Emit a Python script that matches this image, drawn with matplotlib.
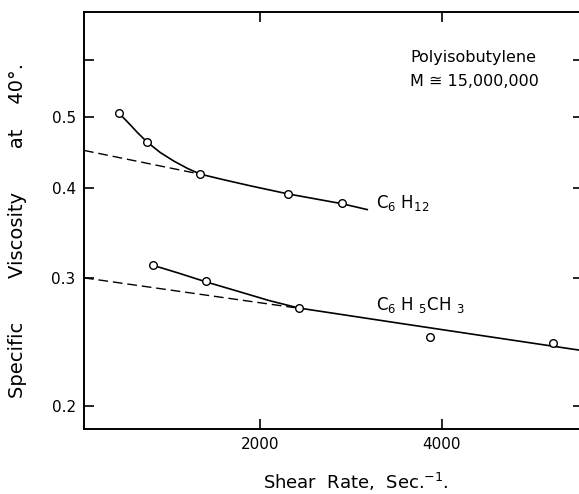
import matplotlib
matplotlib.use('Agg')
import matplotlib.pyplot as plt
from matplotlib.ticker import FixedLocator, NullLocator, FixedFormatter

plt.rcParams['mathtext.default'] = 'regular'

# measured points (shear rate, specific viscosity)
c6h12_x = [448, 756, 1340, 2308, 2903]
c6h12_y = [0.506, 0.462, 0.417, 0.392, 0.3805]
# hand-drawn fit curve
c6h12_fit_x = [448, 550, 650, 756, 900, 1050, 1200, 1340, 1600, 1900, 2308, 2903, 3180]
c6h12_fit_y = [0.506, 0.491, 0.476, 0.462, 0.447, 0.435, 0.425, 0.4174, 0.410, 0.402, 0.392, 0.380, 0.373]
c6h12_dash_x = [60, 1340]
c6h12_dash_y = [0.450, 0.4174]

tol_x = [823, 1407, 2424, 3871, 5222]
tol_y = [0.3127, 0.2976, 0.2729, 0.2491, 0.2447]
tol_fit_x = [823, 1100, 1407, 1750, 2100, 2424, 3500, 4500, 5560]
tol_fit_y = [0.3125, 0.305, 0.2965, 0.288, 0.2795, 0.2730, 0.2605, 0.2495, 0.2384]
tol_dash_x = [60, 2380]
tol_dash_y = [0.3004, 0.2733]

y_ticks = [0.2, 0.3, 0.4, 0.5, 0.6]
y_labels = ['0.2', '0.3', '0.4', '0.5', '']
x_ticks = [2000, 4000]

fig = plt.figure(figsize=(5.79, 4.94), dpi=100)
ax = fig.add_axes([84 / 579, 1 - 429 / 494, 0.8625, (429 - 12) / 494])

ax.set_yscale('log')
ax.set_xlim(60, 5560)
ax.set_ylim(0.186, 0.698)

dash = (0, (7, 3.5))
ax.plot(c6h12_fit_x, c6h12_fit_y, color='black', lw=1.2)
ax.plot(c6h12_dash_x, c6h12_dash_y, color='black', lw=1.0, ls=dash)
ax.plot(c6h12_x, c6h12_y, 'o', ms=5.5, mfc='white', mec='black', mew=1.0)

ax.plot(tol_fit_x, tol_fit_y, color='black', lw=1.2)
ax.plot(tol_dash_x, tol_dash_y, color='black', lw=1.0, ls=dash)
ax.plot(tol_x, tol_y, 'o', ms=5.5, mfc='white', mec='black', mew=1.0)

ax.yaxis.set_major_locator(FixedLocator(y_ticks))
ax.yaxis.set_major_formatter(FixedFormatter(y_labels))
ax.yaxis.set_minor_locator(NullLocator())
ax.xaxis.set_major_locator(FixedLocator(x_ticks))
ax.xaxis.set_minor_locator(NullLocator())
ax.tick_params(direction='in', length=7, width=1.2, labelsize=11,
               top=True, right=True, pad=6)
for s in ax.spines.values():
    s.set_linewidth(1.4)

ax.text(3277, 0.381, r'C$_6$ H$_{12}$', fontsize=12, va='center')
ax.text(3277, 0.2754, r'C$_6$ H $_5$CH $_3$', fontsize=12, va='center')
ax.text(3650, 0.605, 'Polyisobutylene', fontsize=11.5, va='center')
ax.text(3650, 0.5605, 'M \u2245 15,000,000', fontsize=11.5, va='center')

fig.text(18 / 579, 1 - 230 / 494, 'Specific       Viscosity       at    40\u00b0.',
         rotation=90, fontsize=14, ha='center', va='center')
fig.text(356 / 579, 1 - 482 / 494, r'Shear  Rate,  Sec.$^{-1}$.',
         fontsize=13, ha='center', va='center')

fig.savefig('out.png', dpi=100)
